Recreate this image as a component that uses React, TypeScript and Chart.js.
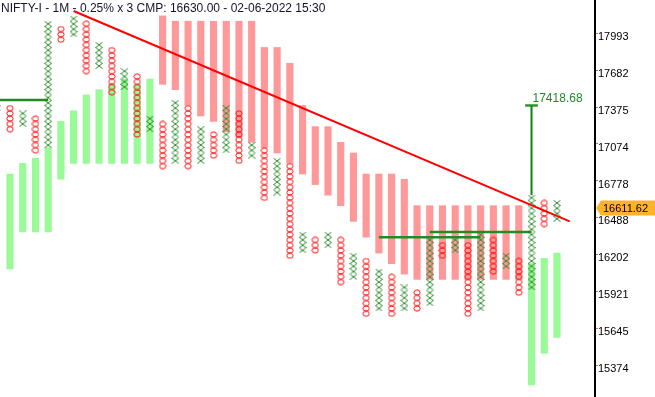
import { useEffect, useRef } from 'react';
import { Chart, registerables } from 'chart.js';

Chart.register(...registerables);

const TITLE = 'NIFTY-I - 1M - 0.25% x 3 CMP: 16630.00 - 02-06-2022 15:30';
const BOX_PCT = 0.0025;
const Y_TICKS = [17993, 17682, 17375, 17074, 16778, 16488, 16202, 15921, 15645, 15374];
const Y_MIN = 15171.6;
const Y_MAX = 18311.2;
const X_MIN = 0.214;
const X_MAX = 46.99;

// [column, high box, low box]
const X_COLUMNS: [number, number, number][] = [
  [0, 17397, 17138], [2, 17353, 17267], [4, 18106, 17095], [6, 18151, 18015],
  [8, 17926, 17748], [10, 17704, 17572], [12, 17310, 17224], [14, 17441, 16968],
  [16, 17224, 16968], [18, 17397, 17053], [20, 17095, 17010], [22, 16968, 16715],
  [24, 16385, 16263], [26, 16385, 16303], [28, 16222, 16061], [30, 16101, 15822],
  [32, 15981, 15822], [34, 16344, 15861], [36, 16344, 16263], [38, 16385, 15822],
  [40, 16222, 16141], [42, 16673, 15981], [44, 16632, 16508],
];
const O_COLUMNS: [number, number, number][] = [
  [1, 17397, 17224], [3, 17310, 17053], [5, 18061, 17971], [7, 18106, 17704],
  [9, 17881, 17528], [11, 17660, 17181], [13, 17267, 16925], [15, 17397, 16925],
  [17, 17181, 17010], [19, 17353, 16968], [21, 17053, 16673], [23, 16925, 16222],
  [25, 16344, 16263], [27, 16344, 16021], [29, 16182, 15782], [31, 16061, 15782],
  [33, 15941, 15822], [35, 16303, 16222], [37, 16303, 15782], [39, 16344, 16101],
  [41, 16182, 15941], [43, 16632, 16467],
];

// ghost columns [column, low, high]
const GREEN_BARS: [number, number, number][] = [
  [1, 16121, 16862], [2, 16406, 16947], [3, 16406, 16989], [4, 16406, 17074],
  [5, 16820, 17288], [6, 16947, 17375], [7, 16947, 17506], [8, 16947, 17550],
  [9, 16947, 17594], [10, 16947, 17638], [11, 16947, 17594], [12, 16947, 17638],
  [42, 15259, 16161], [43, 15489, 16202], [44, 15606, 16242],
];
const PINK_BARS: [number, number, number][] = [
  [13, 17594, 18174], [14, 17550, 18128], [15, 17419, 18128], [16, 17332, 18128],
  [17, 17288, 18128], [18, 17202, 18128], [19, 17159, 18128], [20, 17117, 18128],
  [21, 17074, 17904], [22, 17031, 17904], [23, 16947, 17770], [24, 16862, 17419],
  [25, 16778, 17245], [26, 16694, 17245], [27, 16611, 17117], [28, 16488, 17031],
  [29, 16365, 16862], [30, 16242, 16862], [31, 16161, 16862], [32, 16081, 16820],
  [33, 16041, 16611], [34, 16041, 16611], [35, 16041, 16611], [36, 16041, 16611],
  [37, 16041, 16611], [38, 16041, 16611], [39, 16041, 16611], [40, 16041, 16611],
  [41, 16041, 16611],
];

// trend line [column, price]
const TREND_LINE: [number, number][] = [[6, 18216], [45, 16488]];
// horizontal lines [fromColumn, toColumn, price]
const H_LINES: [number, number, number][] = [
  [-1, 4, 17463],
  [30, 38, 16365],
  [34, 42, 16406],
];
const TARGET_COL = 42;
const TARGET_FROM = 16694;
const TARGET_PRICE = 17418.68;
const CMP_PRICE = 16611.62;

const FONT = 'Arial, "Liberation Sans", sans-serif';

function boxes(cols: [number, number, number][]) {
  const pts: { x: number; y: number }[] = [];
  cols.forEach(([c, hi, lo]) => {
    const n = Math.round(Math.log(hi / lo) / Math.log(1 + BOX_PCT));
    for (let i = 0; i <= n; i++) pts.push({ x: c, y: lo * Math.pow(1 + BOX_PCT, i) });
  });
  return pts;
}

function makeX() {
  const c = document.createElement('canvas');
  c.width = 8;
  c.height = 6;
  const g = c.getContext('2d')!;
  g.strokeStyle = '#2a8a2a';
  g.lineWidth = 1;
  g.beginPath();
  g.moveTo(0.5, 0.3);
  g.lineTo(7.5, 5.7);
  g.moveTo(7.5, 0.3);
  g.lineTo(0.5, 5.7);
  g.stroke();
  return c;
}

function makeO() {
  const c = document.createElement('canvas');
  c.width = 8;
  c.height = 7;
  const g = c.getContext('2d')!;
  g.strokeStyle = '#ff1010';
  g.lineWidth = 1;
  g.beginPath();
  g.ellipse(4, 3.5, 3.1, 2.6, 0, 0, Math.PI * 2);
  g.stroke();
  return c;
}

const overlayPlugin = {
  id: 'overlay',
  afterDraw(chart: any) {
    const ctx = chart.ctx;
    const ys = chart.scales.y;
    const xs = chart.scales.x;
    ctx.save();
    // title
    ctx.font = `12px ${FONT}`;
    ctx.fillStyle = '#14142a';
    ctx.textBaseline = 'alphabetic';
    ctx.textAlign = 'left';
    ctx.fillText(TITLE, 1, 12);
    // target label
    const ty = ys.getPixelForValue(TARGET_PRICE);
    ctx.font = `12px ${FONT}`;
    ctx.fillStyle = '#1f8a2a';
    ctx.fillText(TARGET_PRICE.toFixed(2), xs.getPixelForValue(TARGET_COL) + 1, ty - 3);
    // CMP tag
    const cy = ys.getPixelForValue(CMP_PRICE) + 2.5;
    const left = chart.chartArea.right + 1;
    ctx.fillStyle = '#ffb22e';
    ctx.beginPath();
    ctx.moveTo(left, cy);
    ctx.lineTo(left + 5, cy - 7.5);
    ctx.lineTo(655, cy - 7.5);
    ctx.lineTo(655, cy + 7.5);
    ctx.lineTo(left + 5, cy + 7.5);
    ctx.closePath();
    ctx.fill();
    ctx.fillStyle = '#000';
    ctx.font = `11px ${FONT}`;
    ctx.textBaseline = 'middle';
    ctx.fillText(CMP_PRICE.toFixed(2), left + 7, cy + 1);
    ctx.restore();
  },
};

export default function App() {
  const ref = useRef<HTMLCanvasElement>(null);
  useEffect(() => {
    const xImg = makeX();
    const oImg = makeO();
    const lineDs = (data: { x: number; y: number }[], color: string, width: number) => ({
      type: 'line' as const,
      data,
      borderColor: color,
      borderWidth: width,
      pointRadius: 0,
      fill: false,
      tension: 0,
      order: 1,
    });
    const datasets: any[] = [
      lineDs(TREND_LINE.map(([x, y]) => ({ x, y })), '#ff0000', 2),
      ...H_LINES.map(([a, b, p]) => lineDs([{ x: a, y: p }, { x: b, y: p }], '#228b22', 2.5)),
      lineDs([{ x: TARGET_COL, y: TARGET_FROM }, { x: TARGET_COL, y: TARGET_PRICE }], '#0a840a', 2),
      lineDs([{ x: TARGET_COL - 0.5, y: TARGET_PRICE }, { x: TARGET_COL + 0.5, y: TARGET_PRICE }], '#2e962e', 2.5),
      {
        type: 'scatter',
        data: boxes(X_COLUMNS),
        pointStyle: xImg,
        pointRadius: 3,
        borderWidth: 1,
        order: 2,
      },
      {
        type: 'scatter',
        data: boxes(O_COLUMNS),
        pointStyle: oImg,
        pointRadius: 3,
        borderWidth: 1,
        order: 2,
      },
      {
        type: 'bar',
        data: GREEN_BARS.map(([x, lo, hi]) => ({ x, y: [lo, hi] })),
        backgroundColor: '#98fb98',
        borderWidth: 0,
        barThickness: 6.5,
        grouped: false,
        order: 3,
      },
      {
        type: 'bar',
        data: PINK_BARS.map(([x, lo, hi]) => ({ x, y: [lo, hi] })),
        backgroundColor: '#ff9999',
        borderWidth: 0,
        barThickness: 6.5,
        grouped: false,
        order: 3,
      },
    ];
    const chart = new Chart(ref.current!, {
      type: 'scatter',
      data: { datasets },
      options: {
        animation: false,
        responsive: true,
        maintainAspectRatio: false,
        events: [],
        layout: { padding: 0, autoPadding: false },
        plugins: { legend: { display: false }, tooltip: { enabled: false }, title: { display: false } },
        scales: {
          x: {
            type: 'linear',
            display: false,
            offset: false,
            grid: { offset: false },
            min: X_MIN,
            max: X_MAX,
          },
          y: {
            type: 'logarithmic',
            position: 'right',
            beginAtZero: false,
            min: Y_MIN,
            max: Y_MAX,
            afterBuildTicks: (s: any) => {
              s.ticks = Y_TICKS.map((v) => ({ value: v * Math.pow(1 + BOX_PCT, 0.7) }));
            },
            afterFit: (s: any) => {
              s.width = 60;
              s.paddingTop = 0;
              s.paddingBottom = 0;
            },
            ticks: {
              callback: (_v: any, i: number) => String(Y_TICKS[i]),
              color: '#000',
              font: { family: FONT, size: 11 },
              padding: 0,
              labelOffset: 3.7,
              autoSkip: false,
            },
            grid: { display: true, drawOnChartArea: false, drawTicks: true, tickLength: 3, color: '#c0802a' },
            border: { display: true, color: '#000', width: 2 },
          },
        },
      },
      plugins: [overlayPlugin],
    });
    return () => chart.destroy();
  }, []);
  return (
    <div style={{ position: 'fixed', left: 0, top: 0, width: 655, height: 397, background: '#fff' }}>
      <canvas ref={ref} />
    </div>
  );
}
